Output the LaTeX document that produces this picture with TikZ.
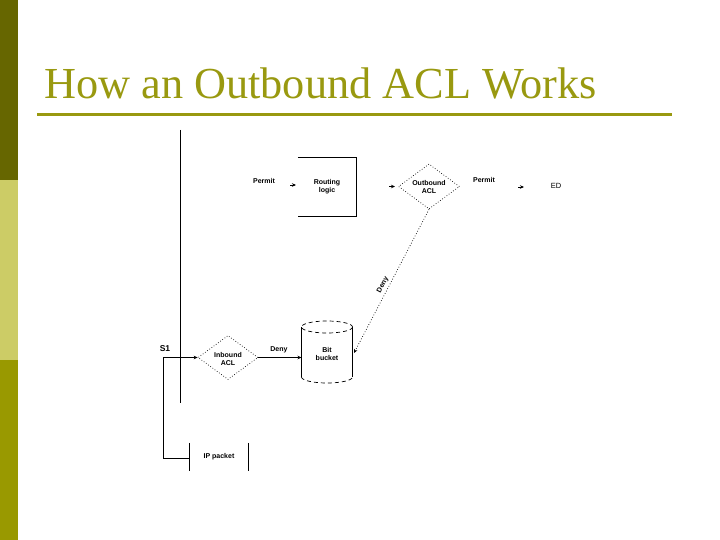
\documentclass[tikz,border=0pt]{standalone}
\usepackage{fontspec}
\setmainfont{Liberation Serif}
\newfontfamily\lab{Liberation Sans}
\usetikzlibrary{arrows.meta,shapes.geometric}
\definecolor{olivedark}{HTML}{666600}
\definecolor{olivelight}{HTML}{CCCC66}
\definecolor{olivemid}{HTML}{999900}
\definecolor{titlecol}{HTML}{999910}
\tikzset{
  lbl/.style={font=\lab\bfseries\fontsize{7}{8}\selectfont, align=center, inner sep=0pt},
  tip/.style={-{Stealth[length=4pt,width=3.5pt]}},
  wire/.style={line width=0.7pt},
  dots/.style={dotted, line width=0.7pt},
  dia/.style={diamond, draw, dotted, line width=0.7pt, minimum width=61pt, minimum height=45pt, inner sep=0pt, aspect=1.35},
}
\begin{document}
\begin{tikzpicture}[x=1pt,y=-1pt]
\useasboundingbox (0,0) rectangle (720,540);
% sidebar
\fill[olivedark] (0,0) rectangle (18,180);
\fill[olivelight] (0,180) rectangle (18,360);
\fill[olivemid] (0,360) rectangle (18,540);
% title
\node[anchor=base west, inner sep=0pt, text=titlecol, font=\fontsize{44.3}{50}\selectfont] (title) at (44,99) {How an Outbound ACL Works};
\draw[titlecol, line width=3pt] (37,114.5) -- (672,114.5);
% main vertical line
\coordinate (vtop) at (180,130);
\coordinate (vbot) at (180,403);
\draw[wire] (vtop) -- (vbot);
% routing logic
\node[lbl, minimum width=58pt, minimum height=58pt] (rl) at (327,187) {Routing\\logic};
\draw[wire] (rl.north west) -- (rl.north east) -- (rl.south east) -- (rl.south west);
\node[lbl] (p1) at (264,181) {Permit};
\coordinate (a1s) at (290,185);
\coordinate (a1e) at (296,185);
\draw[tip, wire] (a1s) -- (a1e);
% outbound ACL
\node[dia] (oacl) at (429,186.5) {};
\node[lbl] (oacltxt) at (429,187) {Outbound\\ACL};
\coordinate (a2s) at (389,186.5);
\coordinate (a2e) at (395,186.5);
\draw[tip, wire] (a2s) -- (a2e);
\node[lbl] (p2) at (484,180) {Permit};
\coordinate (a3s) at (518,187);
\coordinate (a3e) at (524,187);
\draw[tip, wire] (a3s) -- (a3e);
\node[lbl, font=\lab\fontsize{7.5}{8}\selectfont] (ed) at (556,186) {ED};
% bit bucket
\node[lbl, minimum width=51pt, minimum height=62pt] (bb) at (327,354) {Bit\\bucket};
\draw[wire] (301.5,327) -- (301.5,377);
\draw[wire] (352.5,327) -- (352.5,377);
\draw[wire, dash pattern=on 4pt off 3pt] (327,327) ellipse [x radius=25.5, y radius=6];
\draw[wire, dash pattern=on 4pt off 3pt] (301.5,377) arc[start angle=180, end angle=360, x radius=25.5, y radius=-6];
% deny dotted from outbound
\coordinate (bbin) at (354,353);
\draw[dots, tip] (oacl.south) -- (bbin);
\node[lbl, rotate=62] (deny2) at (383,285) {Deny};
% inbound ACL
\node[dia, minimum width=60pt, minimum height=44pt] (iacl) at (228,357.5) {};
\node[lbl] (iacltxt) at (228,358.5) {Inbound\\ACL};
\node[lbl, font=\lab\bfseries\fontsize{8.5}{9}\selectfont] (s1) at (165,349) {S1};
\coordinate (corner1) at (163,357.5);
\draw[wire, tip] (corner1) -- (iacl.west);
\coordinate (bbleft) at (301.5,357.5);
\draw[wire, tip] (iacl.east) -- (bbleft);
\node[lbl] (deny1) at (279,350) {Deny};
% IP packet
\node[lbl, minimum width=58pt, minimum height=28pt] (ip) at (219,457) {IP packet};
\draw[wire] (ip.north west) -- (ip.south west);
\draw[wire] (ip.north east) -- (ip.south east);
\coordinate (corner2) at (163,458.5);
\draw[wire] (corner1) -- (corner2) -- (ip.west |- corner2);
\end{tikzpicture}
\end{document}
